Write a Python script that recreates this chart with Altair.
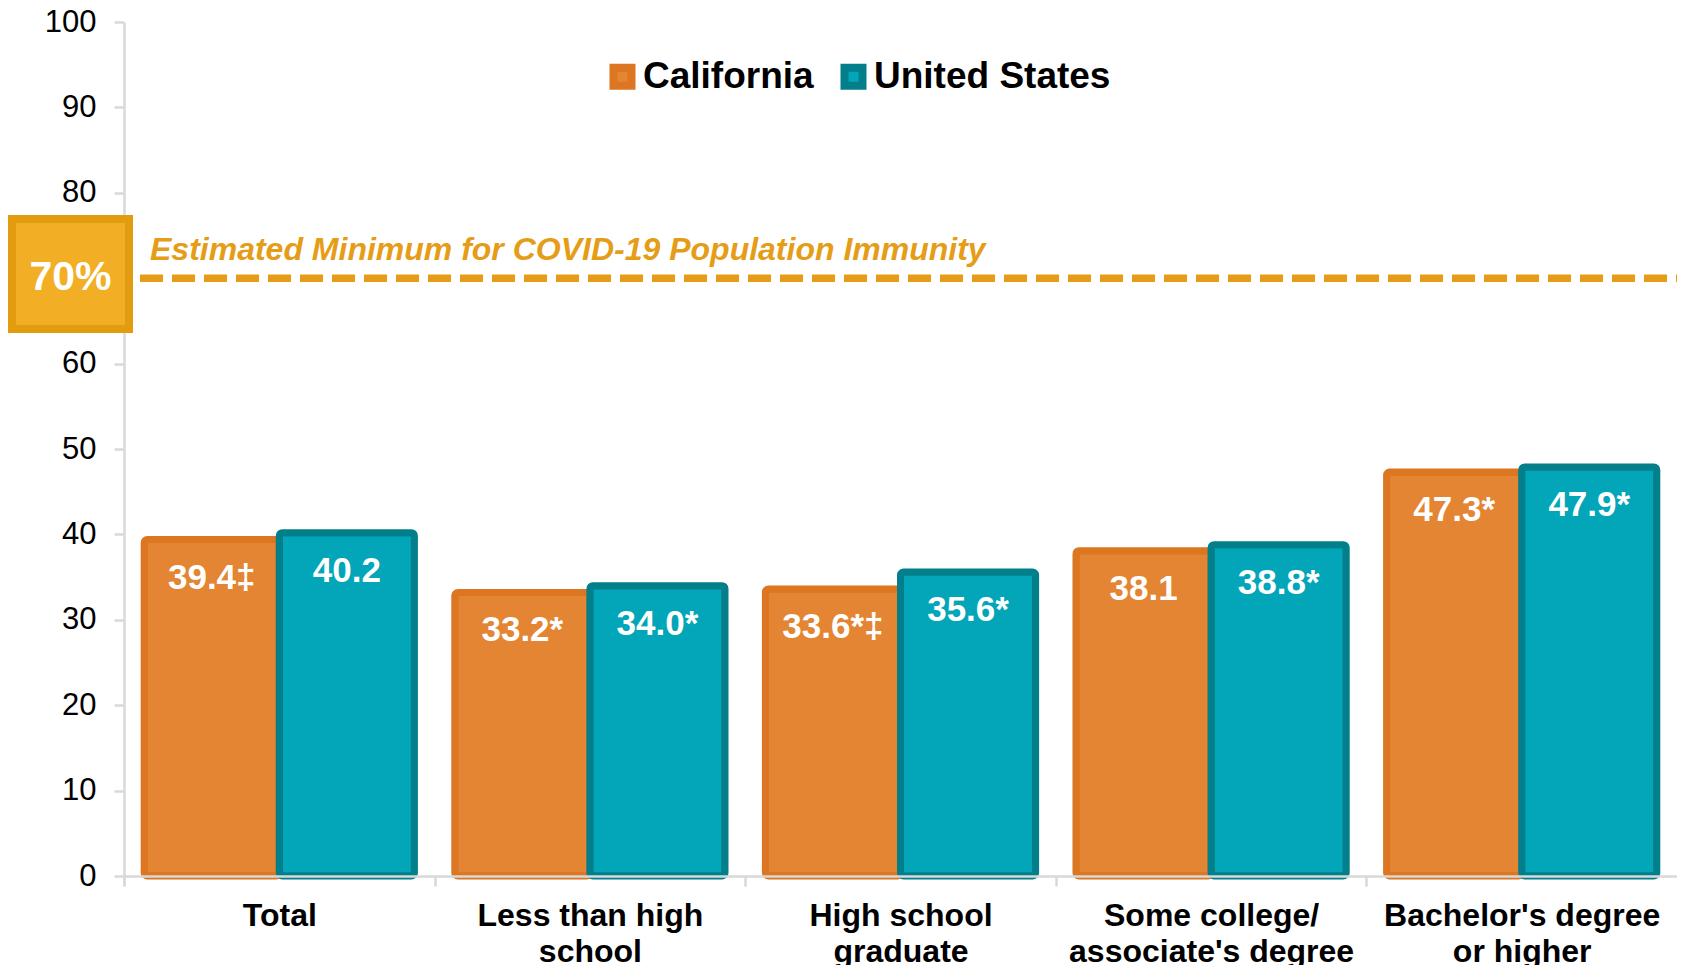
import altair as alt
import pandas as pd

# ---- data ----
categories = [
    "Total",
    "Less than high|school",
    "High school|graduate",
    "Some college/|associate's degree",
    "Bachelor's degree|or higher",
]
series = ["California", "United States"]
california = [39.4, 33.2, 33.6, 38.1, 47.3]
united_states = [40.2, 34.0, 35.6, 38.8, 47.9]
california_labels = ["39.4‡", "33.2*", "33.6*‡", "38.1", "47.3*"]
united_states_labels = ["40.2", "34.0*", "35.6*", "38.8*", "47.9*"]
y_ticks = [0, 10, 20, 30, 40, 50, 60, 70, 80, 90, 100]
threshold = [70]
threshold_label = ["70%"]
annotation = ["Estimated Minimum for COVID-19 Population Immunity"]

# ---- styles ----
FONT = "Liberation Sans"
fills = ["#E38533", "#02A6B8"]
strokes = ["#DC7621", "#027F8B"]
GOLD = "#E59D18"
BOX_FILL = "#F2AE25"
BOX_STROKE = "#E39B0F"
AXIS_GRAY = "#D9D9D9"

W = 1553
H = 854
P_INNER = 0.13
P_OUTER = 0.065
STEP = W / (len(categories) - P_INNER + 2 * P_OUTER)
EDGE = P_OUTER * STEP  # offset from band start to step boundary

rows = []
for c, v, l in zip(categories, california, california_labels):
    rows.append({"category": c, "series": series[0], "value": v, "label": l})
for c, v, l in zip(categories, united_states, united_states_labels):
    rows.append({"category": c, "series": series[1], "value": v, "label": l})
df = pd.DataFrame(rows)

thr = pd.DataFrame({"value": threshold, "pct": threshold_label, "note": annotation})

x_enc = alt.X(
    "category:N",
    sort=categories,
    scale=alt.Scale(paddingInner=P_INNER, paddingOuter=P_OUTER),
    axis=alt.Axis(
        title=None,
        labelAngle=0,
        labelExpr="split(datum.label, '|')",
        labelFont=FONT,
        labelFontSize=32,
        labelFontWeight="bold",
        labelColor="#000000",
        labelLineHeight=36,
        labelPadding=14,
        labelLimit=0,
        bandPosition=0,
        tickExtra=True,
        tickOffset=-EDGE,
        labelOffset=EDGE,
        tickSize=10,
        tickWidth=2.5,
        tickColor=AXIS_GRAY,
        domainColor=AXIS_GRAY,
        domainWidth=2.5,
        zindex=1,
    ),
)
xoff_enc = alt.XOffset("series:N", sort=series, scale=alt.Scale(paddingInner=0, paddingOuter=0))
y_enc = alt.Y(
    "value:Q",
    scale=alt.Scale(domain=[0, 100], nice=False),
    axis=alt.Axis(
        title=None,
        values=y_ticks,
        labelFont=FONT,
        labelFontSize=31,
        labelColor="#000000",
        labelPadding=18,
        tickSize=10,
        tickWidth=2.5,
        tickColor=AXIS_GRAY,
        domainColor=AXIS_GRAY,
        domainWidth=2.5,
    ),
)

legend = alt.Legend(
    title=None,
    orient="none",
    legendX=480,
    legendY=36,
    direction="horizontal",
    labelFont=FONT,
    labelFontSize=37,
    labelFontWeight="bold",
    labelColor="#000000",
    labelLimit=0,
    symbolType="square",
    symbolSize=324,
    symbolStrokeWidth=8,
    labelOffset=2,
    columnPadding=14,
    padding=0,
)

bars = alt.Chart(df).mark_bar(strokeWidth=7, cornerRadius=3).encode(
    x=x_enc,
    xOffset=xoff_enc,
    y=y_enc,
    color=alt.Color("series:N", sort=series, scale=alt.Scale(domain=series, range=fills), legend=legend),
    stroke=alt.Stroke("series:N", sort=series, scale=alt.Scale(domain=series, range=strokes), legend=legend),
)

labels = alt.Chart(df).mark_text(
    color="white", font=FONT, fontSize=35, fontWeight="bold", baseline="alphabetic", dy=49
).encode(
    x=alt.X("category:N", sort=categories),
    xOffset=alt.XOffset("series:N", sort=series),
    y=alt.Y("value:Q"),
    text="label:N",
)

rule = alt.Chart(thr).mark_rule(
    color=GOLD, strokeWidth=7.5, strokeDash=[23, 9], strokeCap="butt"
).encode(y=alt.Y("value:Q"), x=alt.value(16), x2=alt.value(W))

note = alt.Chart(thr).mark_text(
    color=GOLD, font=FONT, fontSize=32, fontWeight="bold", fontStyle="italic",
    align="left", baseline="alphabetic", dy=-18
).encode(y=alt.Y("value:Q"), x=alt.value(26), text="note:N")

box = alt.Chart(thr).mark_rect(
    fill=BOX_FILL, stroke=BOX_STROKE, strokeWidth=8
).encode(x=alt.value(-112), x2=alt.value(5), y=alt.value(197), y2=alt.value(307))

pct = alt.Chart(thr).mark_text(
    color="white", font=FONT, fontSize=41, fontWeight="bold", align="center", baseline="alphabetic", dy=12
).encode(y=alt.Y("value:Q"), x=alt.value(-53.5), text="pct:N")

chart = alt.layer(bars, labels, rule, note, box, pct).properties(
    width=W,
    height=H,
    autosize=alt.AutoSizeParams(type="none"),
    padding={"left": 116, "top": 14, "right": 0, "bottom": 89},
).configure_view(stroke=None).configure_axis(grid=False)

chart.save("out.html", embed_options={"renderer": "svg", "actions": False})
